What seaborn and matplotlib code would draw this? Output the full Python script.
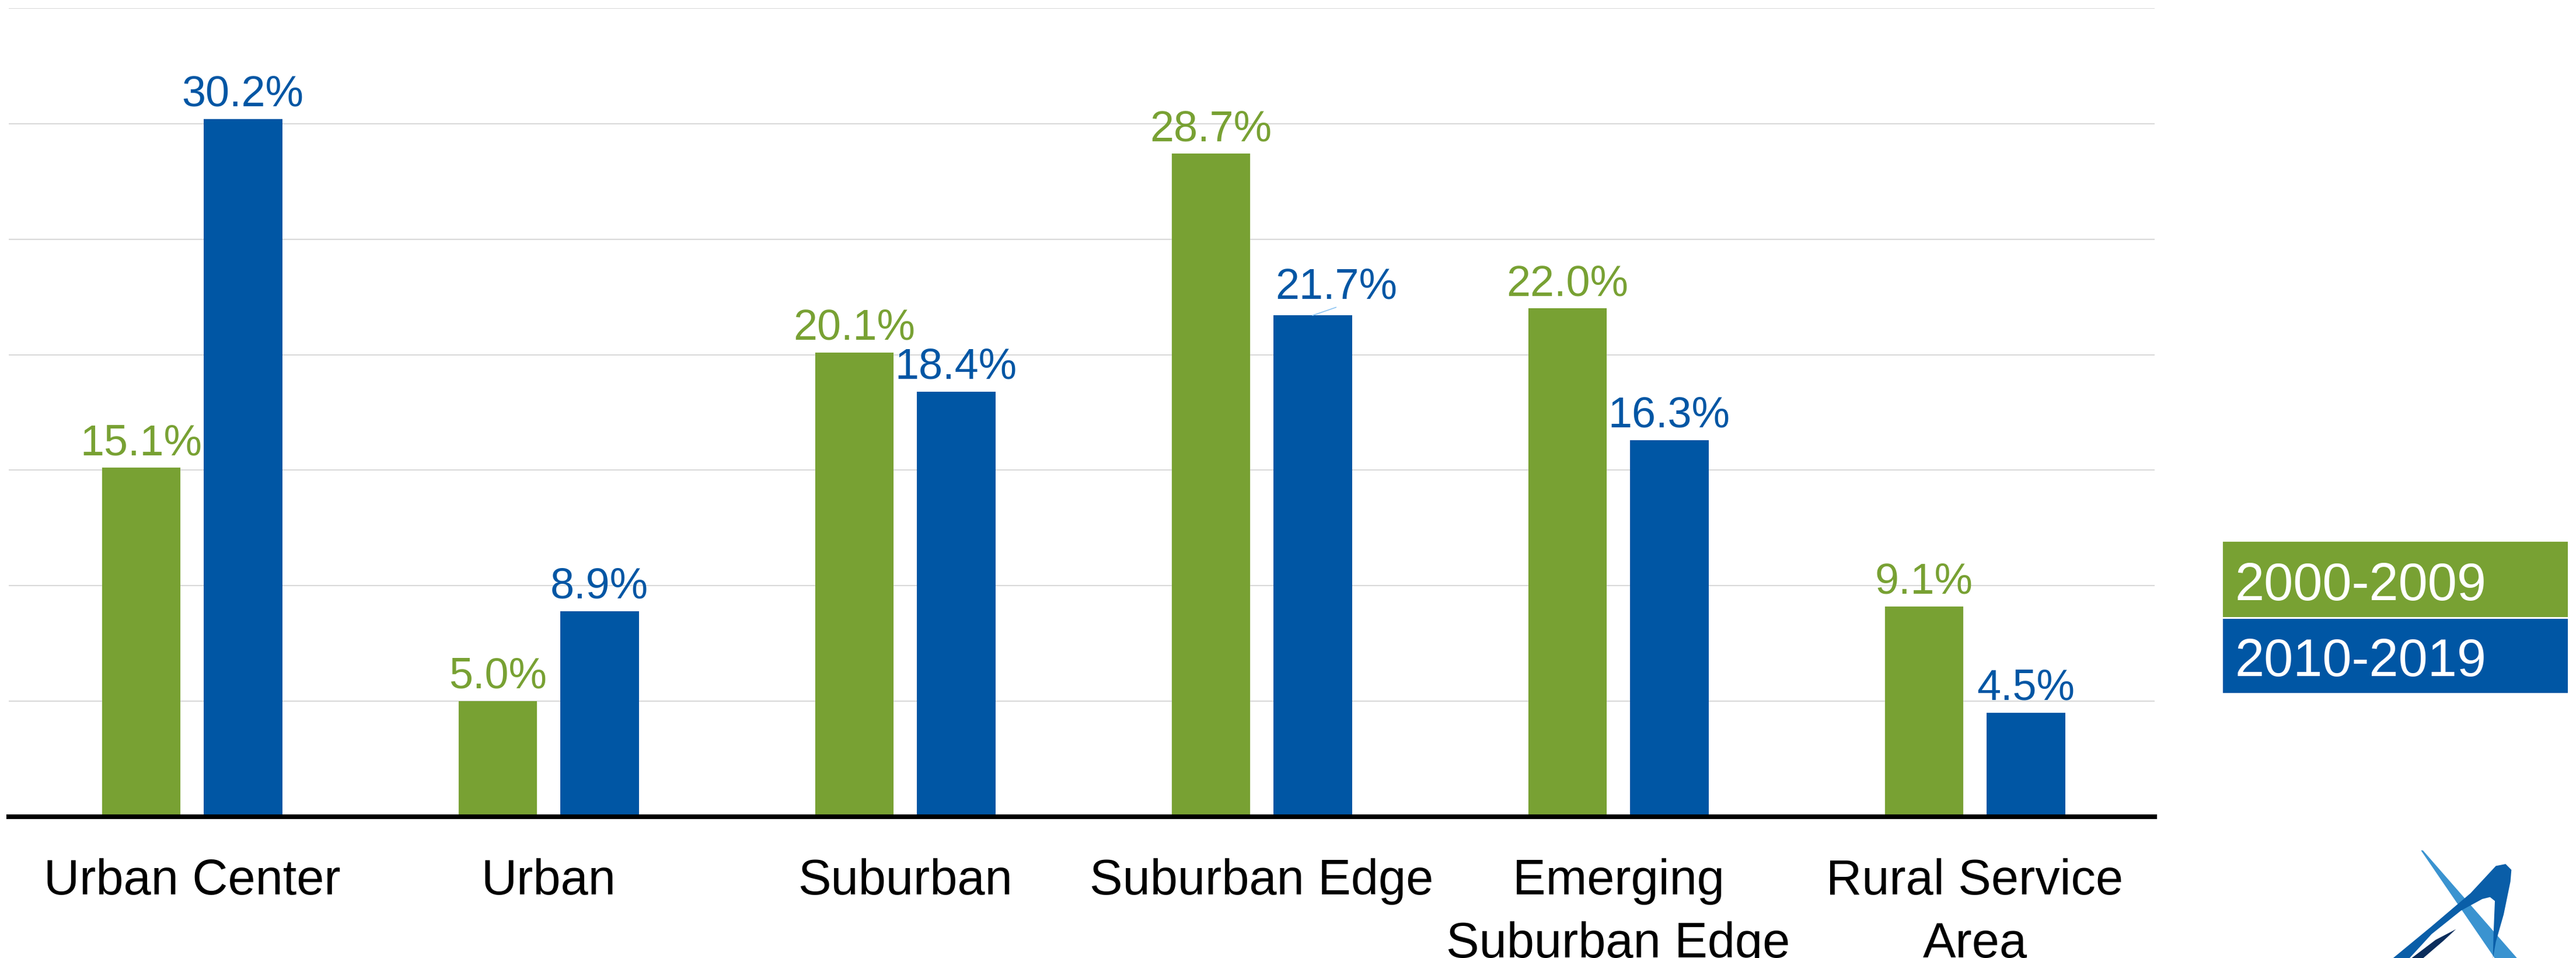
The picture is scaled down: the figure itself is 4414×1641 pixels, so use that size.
import numpy as np
import pandas as pd
import matplotlib
matplotlib.use("Agg")
import matplotlib.pyplot as plt
import seaborn as sns
from matplotlib.patches import Rectangle, Polygon

# ---------------- data ----------------
categories = ["Urban Center", "Urban", "Suburban", "Suburban Edge",
              "Emerging\nSuburban Edge", "Rural Service\nArea"]
periods = ["2000-2009", "2010-2019"]
share_2000s = [15.1, 5.0, 20.1, 28.7, 22.0, 9.1]
share_2010s = [30.2, 8.9, 18.4, 21.7, 16.3, 4.5]
grid_ticks = [0, 5, 10, 15, 20, 25, 30, 35]

GREEN = "#78A133"
BLUE = "#0056A4"
colors = [GREEN, BLUE]

df = pd.DataFrame({
    "category": categories * 2,
    "period": [periods[0]] * len(categories) + [periods[1]] * len(categories),
    "share": share_2000s + share_2010s,
})

sns.set_theme(style="white")
plt.rcParams["font.family"] = ["Liberation Sans", "DejaVu Sans"]

W, H = 4414, 1641
fig = plt.figure(figsize=(W / 100, H / 100), dpi=100)
ax_left, ax_right, ax_top, ax_bottom = 15, 3692, 14, 1399
ax = fig.add_axes([ax_left / W, 1 - ax_bottom / H,
                   (ax_right - ax_left) / W, (ax_bottom - ax_top) / H])

sns.barplot(data=df, x="category", y="share", hue="period", order=categories,
            hue_order=periods, palette=colors, width=0.57, gap=0.225,
            saturation=1, linewidth=0, legend=False, ax=ax)

ax.set_ylim(0, 35)
ax.set_xlim(-0.514, len(categories) - 0.496)
ax.set_yticks(grid_ticks)
ax.yaxis.grid(True, color="#d9d9d9", linewidth=1.5)
ax.xaxis.grid(False)
ax.set_axisbelow(True)
ax.tick_params(axis="y", left=False, labelleft=False)
ax.tick_params(axis="x", length=0, pad=51, labelsize=61, labelcolor="black")
for lbl in ax.get_xticklabels():
    lbl.set_linespacing(1.45)
ax.set_xlabel("")
ax.set_ylabel("")
for s in ["left", "right", "top"]:
    ax.spines[s].set_visible(False)
ax.spines["bottom"].set_color("black")
ax.spines["bottom"].set_linewidth(5.8)
ax.spines["bottom"].set_zorder(5)

# value labels
for cont, col in zip(ax.containers, colors):
    for bar in cont:
        h = bar.get_height()
        x = bar.get_x() + bar.get_width() / 2
        txt = f"{h:.1f}%"
        if txt == "21.7%":
            ax.annotate(txt, (x, h), xytext=(29, 21), textcoords="offset points",
                        ha="center", va="baseline", fontsize=53, color=col)
            ax.annotate("", xy=(x, h), xytext=(29, 10), textcoords="offset points",
                        arrowprops=dict(arrowstyle="-", color="#8CC4F2", lw=1.2,
                                        shrinkA=0, shrinkB=0))
        else:
            ax.annotate(txt, (x, h), xytext=(0, 16), textcoords="offset points",
                        ha="center", va="baseline", fontsize=53, color=col)

# legend boxes
box_x0, box_x1 = 3809, 4400
box_rows = [(928, 1057, 1028), (1060, 1187, 1158)]
for (y0, y1, yb), col, lab in zip(box_rows, colors, periods):
    fig.patches.append(Rectangle((box_x0 / W, 1 - y1 / H), (box_x1 - box_x0) / W,
                                 (y1 - y0) / H, transform=fig.transFigure,
                                 facecolor=col, edgecolor="none"))
    fig.text(3830 / W, 1 - yb / H, lab, color="white", fontsize=65,
             ha="left", va="baseline")

# logo (decorative swoosh, bottom right)
def zpoly(pts):
    return [((4000 + px / 3) / W, 1 - (1400 + py / 3) / H) for px, py in pts]

light = [(445, 170), (455, 170), (940, 725), (825, 725)]
dark = [(300, 725), (500, 560), (700, 390), (830, 250), (880, 240), (910, 270),
        (905, 330), (870, 500), (830, 640), (815, 725), (818, 600), (825, 430),
        (800, 410), (760, 420), (650, 480), (500, 600), (385, 725)]
navy = [(395, 725), (520, 630), (625, 575), (560, 635), (455, 725)]
for pts, col in [(light, "#3A93D0"), (dark, "#0A5EA8"), (navy, "#0B2D5C")]:
    fig.patches.append(Polygon(zpoly(pts), closed=True, transform=fig.transFigure,
                               facecolor=col, edgecolor="none"))

fig.savefig("out.png", dpi=100, facecolor="white")
